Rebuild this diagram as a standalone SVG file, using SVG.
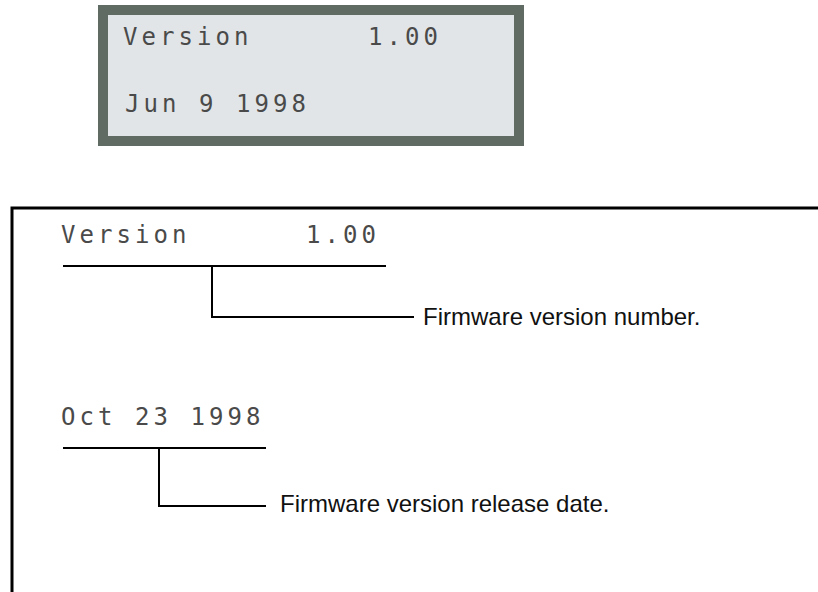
<svg xmlns="http://www.w3.org/2000/svg" width="818" height="592" viewBox="0 0 818 592">
<style>
.lcd{font-family:"DejaVu Sans Mono","Liberation Mono",monospace;font-size:24px;letter-spacing:4.05px;fill:#4a4a4a}
.lbl{font-family:"Liberation Sans",Arial,sans-serif;font-size:24px;fill:#111}
.ln{stroke:#000;stroke-width:2;fill:none}
.frame{stroke:#000;stroke-width:3;fill:none}
</style>
<rect width="818" height="592" fill="#fff"/>
<g id="lcd-display">
<rect x="98" y="5" width="426" height="141" fill="#606b63"/>
<rect x="108" y="15" width="406" height="121" fill="#e1e5e8"/>
<text class="lcd" x="123" y="45">Version</text>
<text class="lcd" x="368" y="45">1.00</text>
<text class="lcd" x="125" y="112">Jun 9 1998</text>
</g>
<g id="panel">
<path class="frame" d="M12 592 V208 H818"/>
</g>
<g id="version-field">
<text class="lcd" x="61" y="243">Version</text>
<text class="lcd" x="306" y="243">1.00</text>
</g>
<g id="date-field">
<text class="lcd" x="61" y="425">Oct 23 1998</text>
</g>
<g id="label-version">
<text class="lbl" x="423" y="325">Firmware version number.</text>
</g>
<g id="label-date">
<text class="lbl" x="280" y="512">Firmware version release date.</text>
</g>
<g id="connectors">
<path class="ln" d="M63 266 H386"/>
<path class="ln" d="M212 266 V317 H414"/>
<path class="ln" d="M63 448 H266"/>
<path class="ln" d="M159 448 V506 H266"/>
</g>
</svg>
